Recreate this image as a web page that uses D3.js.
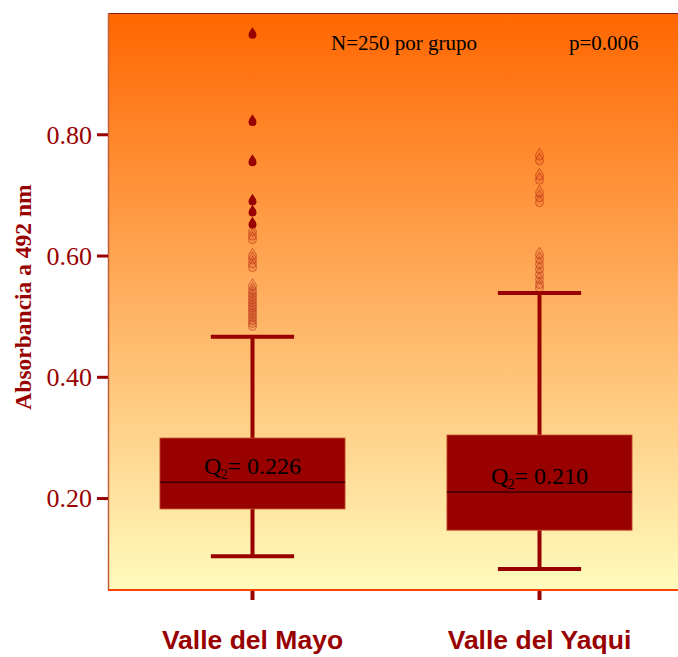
<!DOCTYPE html>
<html lang="es">
<head>
<meta charset="UTF-8">
<title>Absorbancia a 492 nm</title>
<script src="https://d3js.org/d3.v7.min.js"></script>
<style>
  body { margin: 0; background: #ffffff; }
  svg { display: block; }
  .tick text { font-family: "Liberation Serif", "Times New Roman", serif; }
</style>
</head>
<body>
<svg id="chart" width="678" height="657"></svg>
<script>
    // groups and box statistics
    const groups = ["Valle del Mayo", "Valle del Yaqui"];
    const q1 = [0.182, 0.147];
    const median = [0.226, 0.210];
    const q3 = [0.299, 0.304];
    const whiskerLow = [0.104, 0.083];
    const whiskerHigh = [0.466, 0.538];

    // outliers (solid = sharp markers, faded = overlapping pale markers)
    const mayoSolid = [0.967, 0.823, 0.757, 0.692, 0.674, 0.654];
    const mayoFaded = [0.642, 0.635, 0.629, 0.602, 0.596, 0.589, 0.583,
                       0.552, 0.545, 0.540, 0.535, 0.530, 0.525, 0.520, 0.516,
                       0.511, 0.506, 0.501, 0.496, 0.491, 0.486];
    const yaquiFaded = [0.767, 0.759, 0.734, 0.727, 0.706, 0.698, 0.690,
                        0.604, 0.596, 0.588, 0.580, 0.571, 0.563, 0.555, 0.549];

    const yTicks = [0.2, 0.4, 0.6, 0.8];

    const red = "#990000";
    const svg = d3.select("#chart");

    const plot = { left: 109, top: 13, bottom: 589, right: 683 };

    const x = d3.scalePoint()
        .domain(groups)
        .range([plot.left, plot.right])
        .padding(0.5);
    const step = x.step();
    const boxW = step * 0.645;
    const capW = step * 0.29;

    const y = d3.scaleLinear()
        .domain([0.05, 1.0])
        .range([plot.bottom, plot.top]);

    // background gradient
    const defs = svg.append("defs");
    const grad = defs.append("linearGradient")
        .attr("id", "bg")
        .attr("x1", 0).attr("y1", 0).attr("x2", 0).attr("y2", 1);
    grad.append("stop").attr("offset", "0%").attr("stop-color", "#ff6600");
    grad.append("stop").attr("offset", "50%").attr("stop-color", "#ffb060");
    grad.append("stop").attr("offset", "100%").attr("stop-color", "#fffbbd");

    svg.append("rect")
        .attr("x", plot.left).attr("y", plot.top)
        .attr("width", plot.right - plot.left)
        .attr("height", plot.bottom - plot.top)
        .attr("fill", "url(#bg)");

    // frame lines
    svg.append("line")
        .attr("x1", plot.left).attr("x2", plot.right)
        .attr("y1", plot.top + 0.5).attr("y2", plot.top + 0.5)
        .attr("stroke", "#8b1a1a").attr("stroke-width", 1);
    svg.append("line")
        .attr("x1", plot.left - 0.5).attr("x2", plot.left - 0.5)
        .attr("y1", plot.top).attr("y2", plot.bottom + 1)
        .attr("stroke", "#c0603a").attr("stroke-width", 1.5);
    svg.append("line")
        .attr("x1", plot.left - 1).attr("x2", plot.right)
        .attr("y1", plot.bottom + 1).attr("y2", plot.bottom + 1)
        .attr("stroke", "#ff4400").attr("stroke-width", 2);

    // y axis
    const yAxis = svg.append("g")
        .attr("transform", `translate(${plot.left - 1},0)`)
        .call(d3.axisLeft(y).tickValues(yTicks).tickFormat(d3.format(".2f"))
            .tickSize(11).tickPadding(5));
    yAxis.select(".domain").remove();
    yAxis.selectAll(".tick line").attr("stroke", red).attr("stroke-width", 3);
    yAxis.selectAll(".tick text")
        .attr("fill", red)
        .style("font-size", "26px")
        .attr("dy", "0.34em");

    svg.append("text")
        .attr("transform", `translate(31,297) rotate(-90)`)
        .attr("text-anchor", "middle")
        .attr("fill", red)
        .style("font-family", "'Liberation Serif', 'Times New Roman', serif")
        .style("font-weight", "bold")
        .style("font-size", "23.5px")
        .text("Absorbancia a 492 nm");

    // x ticks and labels
    svg.selectAll(".xtick")
        .data(groups)
        .enter().append("line")
        .attr("class", "xtick")
        .attr("x1", d => x(d)).attr("x2", d => x(d))
        .attr("y1", plot.bottom + 2).attr("y2", plot.bottom + 11)
        .attr("stroke", red).attr("stroke-width", 4);

    svg.selectAll(".xlabel")
        .data(groups)
        .enter().append("text")
        .attr("class", "xlabel")
        .attr("x", d => x(d))
        .attr("y", 649)
        .attr("text-anchor", "middle")
        .attr("fill", red)
        .style("font-family", "'Liberation Sans', Arial, sans-serif")
        .style("font-weight", "bold")
        .style("font-size", "26.5px")
        .text(d => d);

    // boxes
    const box = svg.selectAll(".box")
        .data(groups)
        .enter().append("g")
        .attr("class", "box");

    box.append("line")
        .attr("x1", d => x(d)).attr("x2", d => x(d))
        .attr("y1", (d, i) => y(whiskerHigh[i]))
        .attr("y2", (d, i) => y(whiskerLow[i]))
        .attr("stroke", red).attr("stroke-width", 4);

    box.append("line")
        .attr("x1", d => x(d) - capW / 2).attr("x2", d => x(d) + capW / 2)
        .attr("y1", (d, i) => y(whiskerHigh[i]))
        .attr("y2", (d, i) => y(whiskerHigh[i]))
        .attr("stroke", red).attr("stroke-width", 4);

    box.append("line")
        .attr("x1", d => x(d) - capW / 2).attr("x2", d => x(d) + capW / 2)
        .attr("y1", (d, i) => y(whiskerLow[i]))
        .attr("y2", (d, i) => y(whiskerLow[i]))
        .attr("stroke", red).attr("stroke-width", 4);

    box.append("rect")
        .attr("x", d => x(d) - boxW / 2)
        .attr("width", boxW)
        .attr("y", (d, i) => y(q3[i]))
        .attr("height", (d, i) => y(q1[i]) - y(q3[i]))
        .attr("fill", red)
        .attr("stroke", "#c4552e").attr("stroke-width", 0.8);

    box.append("line")
        .attr("x1", d => x(d) - boxW / 2).attr("x2", d => x(d) + boxW / 2)
        .attr("y1", (d, i) => y(median[i]))
        .attr("y2", (d, i) => y(median[i]))
        .attr("stroke", "#3a0000").attr("stroke-width", 1.5);

    const q2 = box.append("text")
        .attr("x", d => x(d))
        .attr("y", (d, i) => y(median[i]) - 8)
        .attr("text-anchor", "middle")
        .attr("fill", "#000000")
        .style("font-family", "'Liberation Serif', 'Times New Roman', serif")
        .style("font-size", "24px");
    q2.append("tspan").text("Q");
    q2.append("tspan").attr("dy", 5).attr("dx", -1).style("font-size", "14px").text("2");
    q2.append("tspan").attr("dy", -5).text((d, i) => "= " + median[i].toFixed(3));

    // outlier markers (teardrop)
    const drop = "M0,-6 C1.5,-3 4,-1 4,1.8 A4,4 0 1 1 -4,1.8 C-4,-1 -1.5,-3 0,-6Z";

    svg.selectAll(".faded-mayo")
        .data(mayoFaded)
        .enter().append("path")
        .attr("d", drop)
        .attr("transform", d => `translate(${x(groups[0])},${y(d)})`)
        .attr("fill", "#c03010").attr("fill-opacity", 0.15)
        .attr("stroke", red).attr("stroke-opacity", 0.45).attr("stroke-width", 0.8);

    svg.selectAll(".faded-yaqui")
        .data(yaquiFaded)
        .enter().append("path")
        .attr("d", drop)
        .attr("transform", d => `translate(${x(groups[1])},${y(d)})`)
        .attr("fill", "#c03010").attr("fill-opacity", 0.15)
        .attr("stroke", red).attr("stroke-opacity", 0.45).attr("stroke-width", 0.8);

    svg.selectAll(".solid-mayo")
        .data(mayoSolid)
        .enter().append("path")
        .attr("d", drop)
        .attr("transform", d => `translate(${x(groups[0])},${y(d)})`)
        .attr("fill", red);

    // annotations
    const note = svg.append("g")
        .style("font-family", "'Liberation Serif', 'Times New Roman', serif")
        .style("font-size", "21px")
        .attr("fill", "#000000");
    note.append("text").attr("x", 331).attr("y", 50).text("N=250 por grupo");
    note.append("text").attr("x", 569).attr("y", 50).text("p=0.006");
</script>
</body>
</html>
